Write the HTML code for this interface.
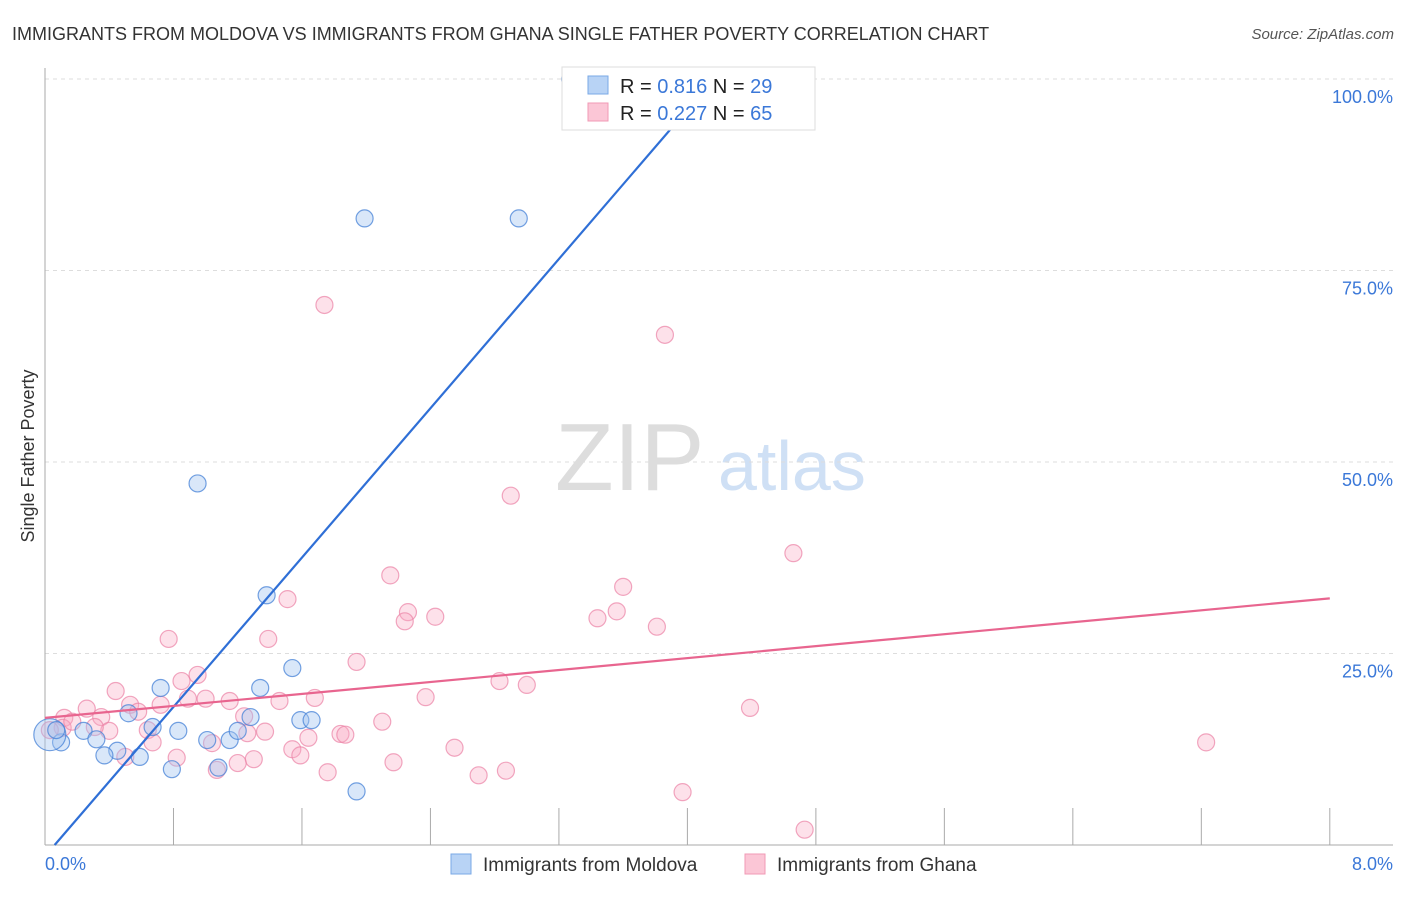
<!DOCTYPE html>
<html><head><meta charset="utf-8"><style>
body{margin:0;background:#fff;font-family:"Liberation Sans",sans-serif}
svg text{font-family:"Liberation Sans",sans-serif}
</style></head><body>
<svg id="c" width="1406" height="892" xmlns="http://www.w3.org/2000/svg">
<text x="12" y="40" font-size="18" fill="#333">IMMIGRANTS FROM MOLDOVA VS IMMIGRANTS FROM GHANA SINGLE FATHER POVERTY CORRELATION CHART</text>
<text x="1394" y="39" font-size="15" fill="#555" font-style="italic" text-anchor="end">Source: ZipAtlas.com</text>
<text x="34" y="456" font-size="18" fill="#333" transform="rotate(-90 34 456)" text-anchor="middle">Single Father Poverty</text>
<g><text x="555" y="490" font-size="96" fill="#ddd" font-family="Liberation Serif,serif">ZIP</text><text x="718" y="490" font-size="70" fill="#cfe0f5">atlas</text></g>
<g id="grid"></g><g id="axes"></g><g id="pts"></g><g id="lines"></g>
<g>
<rect x="562" y="67" width="253" height="63" fill="#fff" stroke="#ddd"/>
<rect x="588" y="76" width="20" height="18" fill="#b8d3f5" stroke="#7aa8e6"/>
<rect x="588" y="103" width="20" height="18" fill="#fbc6d6" stroke="#f09ab5"/>
<text x="620" y="93" font-size="20" fill="#222">R = <tspan fill="#3b78d8">0.816</tspan>   N = <tspan fill="#3b78d8">29</tspan></text>
<text x="620" y="120" font-size="20" fill="#222">R = <tspan fill="#3b78d8">0.227</tspan>   N = <tspan fill="#3b78d8">65</tspan></text>
</g>
<g>
<rect x="451" y="854" width="20" height="20" fill="#b8d3f5" stroke="#7aa8e6"/>
<text x="483" y="871" font-size="19" fill="#333">Immigrants from Moldova</text>
<rect x="745" y="854" width="20" height="20" fill="#fbc6d6" stroke="#f09ab5"/>
<text x="777" y="871" font-size="19" fill="#333">Immigrants from Ghana</text>
</g>
</svg>
<script>
const xTicks=[0,0.8,1.6,2.4,3.2,4.0,4.8,5.6,6.4,7.2,8.0];
const yTicks=[25,50,75,100];
const yTickLabels=["25.0%","50.0%","75.0%","100.0%"];
const xEndLabels=["0.0%","8.0%"];
const moldovaX=[3.27,3.71,1.99,2.95,0.95,1.38,1.54,0.72,1.34,0.52,1.28,1.59,1.66,0.67,0.83,0.24,0.32,0.10,1.01,1.15,1.20,0.45,0.37,0.59,0.79,1.08,1.94,0.03,0.07];
const moldovaY=[100,100,81.8,81.8,47.2,32.6,23.1,20.5,20.5,17.2,16.7,16.3,16.3,15.4,14.9,14.9,13.8,13.4,13.7,13.7,14.9,12.3,11.7,11.5,9.9,10.1,7.0,14.4,15.0];
const ghanaX=[1.74,3.86,2.90,4.66,2.15,3.60,1.51,2.26,3.56,2.43,2.24,3.44,3.81,0.77,1.39,1.94,0.95,0.85,2.83,3.00,0.44,2.37,0.89,1.00,1.15,1.46,1.68,0.53,4.39,0.26,0.35,0.12,0.58,1.24,2.10,0.40,0.64,0.31,1.37,1.26,1.64,1.84,1.87,0.11,0.67,1.04,1.54,2.55,1.59,0.82,0.50,1.30,1.20,2.17,1.07,1.76,2.87,2.70,3.97,4.73,7.23,0.03,0.17,0.72];
const ghanaY=[70.5,66.6,45.6,38.1,35.2,33.7,32.1,30.4,30.5,29.8,29.2,29.6,28.5,26.9,26.9,23.9,22.2,21.4,21.4,20.9,20.1,19.3,19.1,19.1,18.8,18.8,19.2,18.3,17.9,17.8,16.7,16.6,17.4,16.8,16.1,14.9,15.0,15.4,14.8,14.6,14.0,14.5,14.4,15.3,13.4,13.3,12.5,12.7,11.7,11.4,11.5,11.2,10.7,10.8,9.8,9.5,9.7,9.1,6.9,2.0,13.4,15.0,16.1,18.3];
const moldovaTrend=[[0.06,0],[4.0,96]];
const ghanaTrend=[[0,16.6],[8,32.2]];
const NS="http://www.w3.org/2000/svg";
const X=v=>45+v*160.6, Y=v=>845-v*7.66;
function mk(tag,attrs,parent){const e=document.createElementNS(NS,tag);for(const k in attrs)e.setAttribute(k,attrs[k]);document.getElementById(parent).appendChild(e);return e;}
yTicks.forEach((t,i)=>{
 const g=mk('line',{x1:45,x2:1393,y1:Y(t),y2:Y(t),stroke:'#ddd','stroke-dasharray':'4,4'},'grid');
 
 
 const l=mk('text',{x:1393,y:Y(t)+24,'font-size':18,fill:'#3b78d8','text-anchor':'end'},'grid');
 l.textContent=yTickLabels[i];
 
 
});
const ya=mk('line',{x1:45,x2:45,y1:68,y2:845,stroke:'#aaa'},'axes');


const xa=mk('line',{x1:45,x2:1393,y1:845,y2:845,stroke:'#aaa'},'axes');


xTicks.forEach(t=>{const k=mk('line',{x1:X(t),x2:X(t),y1:808,y2:845,stroke:'#aaa'},'axes');
 
 });
[[0,45,'start'],[8,1393,'end']].forEach((a,i)=>{const t=mk('text',{x:a[1],y:870,'font-size':18,fill:'#3b78d8','text-anchor':a[2]},'axes');t.textContent=xEndLabels[i];
 
 });
ghanaX.forEach((x,i)=>{const c=mk('circle',{cx:X(x),cy:Y(ghanaY[i]),r:8.5,fill:'rgba(248,170,195,0.35)',stroke:'rgba(235,130,165,0.7)','stroke-width':1.2},'pts');
 
 });
moldovaX.forEach((x,i)=>{const c=mk('circle',{cx:X(x),cy:Y(moldovaY[i]),r:i==27?16:8.5,fill:'rgba(160,195,240,0.4)',stroke:'rgba(70,130,215,0.75)','stroke-width':1.2},'pts');
 
 });
const bl=mk('line',{x1:X(moldovaTrend[0][0]),y1:Y(moldovaTrend[0][1]),x2:X(moldovaTrend[1][0]),y2:Y(moldovaTrend[1][1]),stroke:'#2f6fd6','stroke-width':2.2},'lines');


const pl=mk('line',{x1:X(ghanaTrend[0][0]),y1:Y(ghanaTrend[0][1]),x2:X(ghanaTrend[1][0]),y2:Y(ghanaTrend[1][1]),stroke:'#e8658f','stroke-width':2.2},'lines');


</script>
</body></html>
